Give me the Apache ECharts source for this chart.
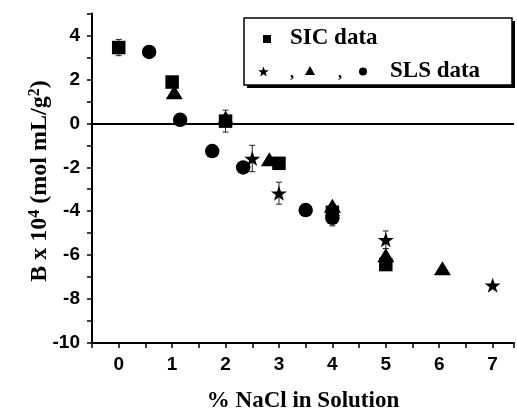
<!DOCTYPE html>
<html>
<head>
<meta charset="utf-8">
<script src="https://cdn.jsdelivr.net/npm/echarts@6/dist/echarts.min.js"></script>
<style>
  html, body { margin: 0; padding: 0; background: #fff; }
  #chart { width: 517px; height: 418px; }
</style>
</head>
<body>
<div id="chart"></div>
<script>
// SIC data (squares)
const sicX = [0, 1, 2, 3, 4, 5]
const sicY = [3.45, 1.88, 0.1, -1.82, -4.05, -6.43]
const sicErr = [0.37, 0, 0.5, 0, 0, 0]

// SLS data (stars, triangles, circles)
const starX = [2.5, 3, 4, 5, 7]
const starY = [-1.6, -3.18, -4.25, -5.3, -7.37]
const starErr = [0.6, 0.5, 0, 0.4, 0]

const triX = [1.04, 2, 2.82, 4, 5, 6.06]
const triY = [1.42, 0.25, -1.63, -3.75, -6.0, -6.6]
const triErr = [0, 0, 0, 0, 0.3, 0]

const circX = [0.57, 1.15, 1.75, 2.33, 3.5, 4]
const circY = [3.25, 0.16, -1.26, -2.01, -3.95, -4.3]
const circErr = [0, 0, 0, 0, 0, 0.37]

const xTicks = [0, 1, 2, 3, 4, 5, 6, 7]
const yTicks = [-10, -8, -6, -4, -2, 0, 2, 4]

const serif = '"Liberation Serif", "Times New Roman", serif'
const sans = '"Liberation Sans", Arial, sans-serif'
const STAR = 'path://M50,0 L61.8,35.1 L97.6,34.5 L68.8,56.9 L79.4,90.5 L50,70 L20.6,90.5 L31.2,56.9 L2.4,34.5 L38.2,35.1 Z'

// small star polygon for the legend key
const starPoints = (cx, cy, r) => {
  const pts = []
  for (let i = 0; i < 10; i++) {
    const a = -Math.PI / 2 + (i * Math.PI) / 5
    const rr = i % 2 === 0 ? r : r * 0.42
    pts.push([cx + rr * Math.cos(a), cy + rr * Math.sin(a)])
  }
  return pts
}

const zip = (xs, ys) => xs.map((x, i) => [x, ys[i]])
const errData = []
;[[sicX, sicY, sicErr], [starX, starY, starErr], [triX, triY, triErr], [circX, circY, circErr]].forEach(([xs, ys, es]) => {
  xs.forEach((x, i) => { if (es[i] > 0) errData.push([x, ys[i], es[i]]) })
})

const chart = echarts.init(document.getElementById('chart'), null, { renderer: 'canvas' })

const markerSeries = (name, xs, ys, symbol, size) => ({
  type: 'scatter',
  name,
  data: zip(xs, ys),
  symbol,
  symbolSize: size,
  itemStyle: { color: '#000', opacity: 1 },
  z: 3,
  silent: true,
})

chart.setOption({
  animation: false,
  backgroundColor: '#fff',
  grid: { left: 92, right: 3, top: 13.5, bottom: 64 },
  xAxis: {
    type: 'value',
    min: -0.5,
    max: 7.4,
    interval: 0.5,
    name: '% NaCl in Solution',
    nameLocation: 'middle',
    nameGap: 47,
    nameTextStyle: { fontFamily: serif, fontWeight: 'bold', fontSize: 23, color: '#000' },
    axisLine: { onZero: false, lineStyle: { color: '#000', width: 2 } },
    axisTick: { length: 5, lineStyle: { color: '#000', width: 1.5 } },
    splitLine: { show: false },
    axisLabel: {
      margin: 12,
      fontFamily: sans,
      fontWeight: 'bold',
      fontSize: 19,
      color: '#000',
      formatter: (v) => (xTicks.includes(v) ? String(v) : ''),
    },
  },
  yAxis: {
    type: 'value',
    min: -10,
    max: 5,
    interval: 1,
    axisLine: { show: true, onZero: false, lineStyle: { color: '#000', width: 2 } },
    axisTick: { show: true, length: 5, lineStyle: { color: '#000', width: 1.5 } },
    splitLine: { show: false },
    axisLabel: {
      margin: 12,
      fontFamily: sans,
      fontWeight: 'bold',
      fontSize: 19,
      color: '#000',
      formatter: (v) => (yTicks.includes(v) ? String(v) : ''),
    },
  },
  series: [
    {
      type: 'custom',
      name: 'errors',
      data: errData,
      z: 2,
      silent: true,
      renderItem: (params, api) => {
        const x = api.value(0), y = api.value(1), e = api.value(2)
        const hi = api.coord([x, y + e])
        const lo = api.coord([x, y - e])
        const style = { stroke: '#222', lineWidth: 1 }
        return {
          type: 'group',
          children: [
            { type: 'line', shape: { x1: hi[0], y1: hi[1], x2: lo[0], y2: lo[1] }, style },
            { type: 'line', shape: { x1: hi[0] - 3, y1: hi[1], x2: hi[0] + 3, y2: hi[1] }, style },
            { type: 'line', shape: { x1: lo[0] - 3, y1: lo[1], x2: lo[0] + 3, y2: lo[1] }, style },
          ],
        }
      },
      markLine: {
        silent: true,
        symbol: 'none',
        label: { show: false },
        lineStyle: { color: '#000', width: 2, type: 'solid' },
        data: [{ yAxis: 0 }],
      },
    },
    markerSeries('SIC data', sicX, sicY, 'rect', 13.5),
    markerSeries('SLS circles', circX, circY, 'circle', 14.5),
    markerSeries('SLS stars', starX, starY, STAR, [16, 15]),
    markerSeries('SLS triangles', triX, triY, 'triangle', [17, 14]),
  ],
  graphic: [
    {
      type: 'text',
      x: 40,
      y: 181,
      rotation: Math.PI / 2,
      style: {
        text: 'B x 10{sup|4} (mol mL/g{sup|2})',
        font: 'bold 24px ' + serif,
        fill: '#000',
        align: 'center',
        verticalAlign: 'middle',
        rich: {
          sup: { fontFamily: serif, fontWeight: 'bold', fontSize: 16, fill: '#000', padding: [0, 0, 10, 0] },
        },
      },
    },
    {
      type: 'group',
      children: [
        { type: 'rect', shape: { x: 247, y: 21, width: 268, height: 67 }, style: { fill: '#000' } },
        { type: 'rect', shape: { x: 244, y: 18, width: 268, height: 67 }, style: { fill: '#fff', stroke: '#000', lineWidth: 1.5 } },
        { type: 'rect', shape: { x: 263, y: 35, width: 8, height: 8 }, style: { fill: '#000' } },
        {
          type: 'text', x: 290, y: 38,
          style: { text: 'SIC data', font: 'bold 23px ' + serif, fill: '#000', verticalAlign: 'middle' },
        },
        { type: 'polygon', shape: { points: starPoints(263.5, 72, 5.5) }, style: { fill: '#000' } },
        { type: 'text', x: 292, y: 74, style: { text: ',', font: 'bold 16px ' + serif, fill: '#000', align: 'center', verticalAlign: 'middle' } },
        { type: 'polygon', shape: { points: [[310, 66], [315, 75], [305, 75]] }, style: { fill: '#000' } },
        { type: 'text', x: 340, y: 74, style: { text: ',', font: 'bold 16px ' + serif, fill: '#000', align: 'center', verticalAlign: 'middle' } },
        { type: 'circle', shape: { cx: 363, cy: 71.5, r: 4 }, style: { fill: '#000' } },
        {
          type: 'text', x: 390, y: 71,
          style: { text: 'SLS data', font: 'bold 23px ' + serif, fill: '#000', verticalAlign: 'middle' },
        },
      ],
    },
  ],
})
</script>
</body>
</html>
